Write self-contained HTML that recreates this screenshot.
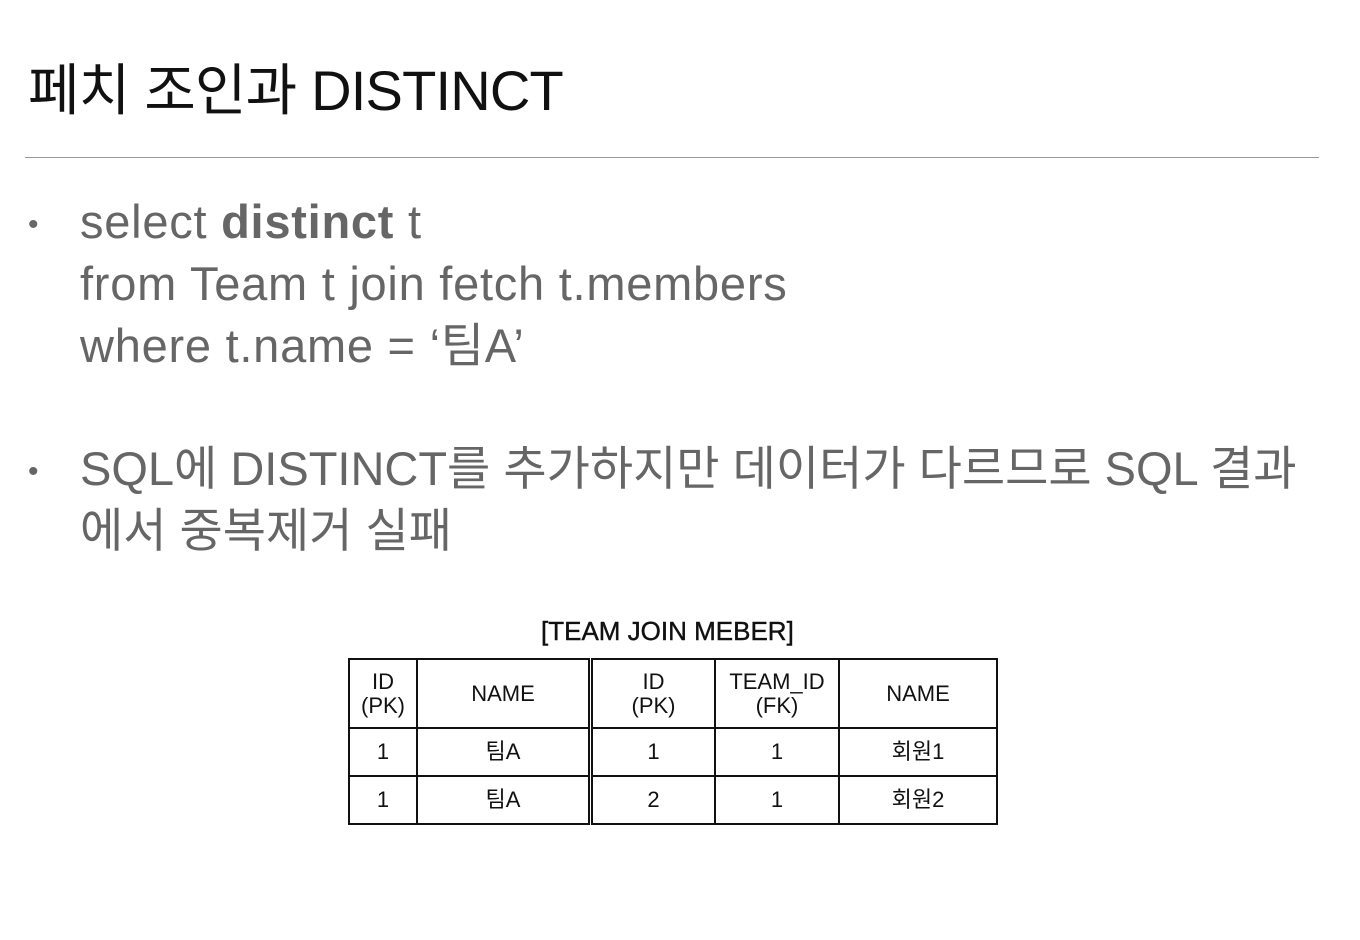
<!DOCTYPE html>
<html><head><meta charset="utf-8"><style>
body{margin:0;width:1360px;height:940px;background:#fff;position:relative;overflow:hidden;font-family:"Liberation Sans","Noto Sans CJK KR",sans-serif}
.abs{position:absolute;white-space:nowrap}
#title{left:28px;top:46px;font-size:56px;color:#111;letter-spacing:-0.8px}
#rule{left:25px;top:157px;width:1294px;height:1px;background:#999}
.bl{font-size:47px;color:#666;line-height:62px;letter-spacing:0.75px}
.dot{font-size:30px;color:#666}
table{position:absolute;left:348px;top:658px;border-collapse:collapse;font-size:22px;color:#111}
td{border:2px solid #111;text-align:center;padding:0;line-height:24px}
</style></head><body>
<div class="abs" id="title">페치 조인과 DISTINCT</div>
<div class="abs" id="rule"></div>
<div class="abs dot" style="left:28px;top:208px">•</div>
<div class="abs bl" style="left:80px;top:191px">select <b>distinct</b> t<br>from Team t join fetch t.members<br>where t.name = ‘팀A’</div>
<div class="abs dot" style="left:28px;top:455px">•</div>
<div class="abs bl" style="left:80px;top:438px;letter-spacing:0px">SQL에 DISTINCT를 추가하지만 데이터가 다르므로 SQL 결과<br>에서 중복제거 실패</div>
<div class="abs" style="left:541px;top:616px;font-size:26px;color:#111;-webkit-text-stroke:0.4px #111">[TEAM JOIN MEBER]</div>
<table>
<tr style="height:69px"><td style="width:66px">ID<br>(PK)</td><td style="width:170px;border-right:5px double #111">NAME</td><td style="width:121px">ID<br>(PK)</td><td style="width:122px">TEAM_ID<br>(FK)</td><td style="width:156px">NAME</td></tr>
<tr style="height:48px"><td>1</td><td style="border-right:5px double #111">팀A</td><td>1</td><td>1</td><td>회원1</td></tr>
<tr style="height:48px"><td>1</td><td style="border-right:5px double #111">팀A</td><td>2</td><td>1</td><td>회원2</td></tr>
</table>
</body></html>
